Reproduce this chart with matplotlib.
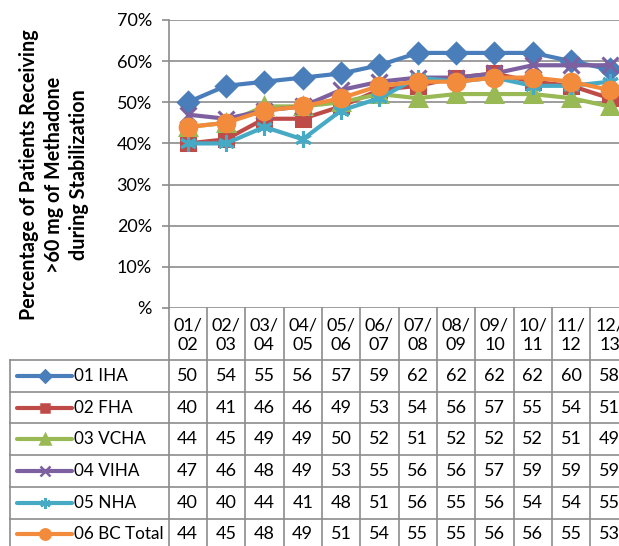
import matplotlib
matplotlib.use("Agg")
import matplotlib.pyplot as plt
import numpy as np

plt.rcParams['font.family'] = ['Lato', 'DejaVu Sans']

# Data
periods = ["01/\n02", "02/\n03", "03/\n04", "04/\n05", "05/\n06", "06/\n07",
           "07/\n08", "08/\n09", "09/\n10", "10/\n11", "11/\n12", "12/\n13"]
iha = [50, 54, 55, 56, 57, 59, 62, 62, 62, 62, 60, 58]
fha = [40, 41, 46, 46, 49, 53, 54, 56, 57, 55, 54, 51]
vcha = [44, 45, 49, 49, 50, 52, 51, 52, 52, 52, 51, 49]
viha = [47, 46, 48, 49, 53, 55, 56, 56, 57, 59, 59, 59]
nha = [40, 40, 44, 41, 48, 51, 56, 55, 56, 54, 54, 55]
bc_total = [44, 45, 48, 49, 51, 54, 55, 55, 56, 56, 55, 53]
series_names = ["01 IHA", "02 FHA", "03 VCHA", "04 VIHA", "05 NHA", "06 BC Total"]
series_vals = [iha, fha, vcha, viha, nha, bc_total]

# styles (Excel 2010 palette)
colors = ['#4A7EBB', '#BE4B48', '#98B954', '#7D60A0', '#46AAC5', '#F38B3C']
markers = ['D', 's', '^', 'x', (6, 2, 0), 'o']
msizes = [10, 10, 11, 11, 12, 12]

W, H = 619, 546
x0, cw = 168.5, 38.35          # plot left edge and column width (px)
y_top, y_bot = 20, 308          # 70% and 0% (px)
rh = 31.7                       # table row height
grid_c = '#8c8c8c'
fs = 13

fig = plt.figure(figsize=(W / 100, H / 100), dpi=100)
n = len(periods)
ax = fig.add_axes([x0 / W, 1 - y_bot / H, n * cw / W, (y_bot - y_top) / H])
x = np.arange(n)

for vals, c, m, ms in zip(series_vals, colors, markers, msizes):
    ax.plot(x, vals, color=c, lw=3.0, marker=m, ms=ms, mfc=c, mec=c, mew=2.2,
            solid_capstyle='round', clip_on=False)

ax.set_xlim(-0.5, n - 0.5)
ax.set_ylim(0, 70)
ax.set_yticks(range(0, 71, 10))
ax.set_yticklabels(['%'] + ['%d%%' % v for v in range(10, 71, 10)], fontsize=fs)
ax.set_xticks([])
ax.yaxis.grid(True, color=grid_c, lw=1.2)
ax.set_axisbelow(True)
for s in ['top', 'right', 'bottom']:
    ax.spines[s].set_visible(False)
ax.spines['left'].set_color(grid_c)
ax.spines['left'].set_linewidth(1.2)
ax.tick_params(axis='y', length=5, width=1.2, color=grid_c, pad=7)

fig.text(54 / W, 1 - 175 / H,
         "Percentage of Patients Receiving\n>60 mg of Methadone\nduring Stabilization",
         rotation=90, ha='center', va='center', multialignment='center',
         fontsize=14.2, fontweight='bold', linespacing=1.3)

# table drawn in pixel coordinates
tb = fig.add_axes([0, 0, 1, 1])
tb.set_xlim(0, W)
tb.set_ylim(H, 0)
tb.axis('off')

hdr_bot = 360
tab_bot = hdr_bot + rh * len(series_names)
x_right = x0 + n * cw
lk = dict(color=grid_c, lw=1.2)
for k in range(n + 1):
    tb.plot([x0 + k * cw] * 2, [y_bot, tab_bot], **lk)
tb.plot([10, 10], [hdr_bot, tab_bot], **lk)
for i in range(len(series_names) + 1):
    tb.plot([10, x_right], [hdr_bot + i * rh] * 2, **lk)

for k, lab in enumerate(periods):
    tb.text(x0 + (k + 0.5) * cw, (y_bot + hdr_bot) / 2 + 1, lab, ha='center', va='center',
            fontsize=fs, linespacing=1.25)

for i, (name, vals) in enumerate(zip(series_names, series_vals)):
    yc = hdr_bot + (i + 0.5) * rh
    tb.plot([17, 72], [yc, yc], color=colors[i], lw=3.0, solid_capstyle='round')
    tb.plot([44.5], [yc], marker=markers[i], ms=msizes[i] * 0.62, color=colors[i],
            mec=colors[i], mew=1.8)
    tb.text(74, yc, name, ha='left', va='center', fontsize=12.3)
    for k, v in enumerate(vals):
        tb.text(x0 + (k + 0.5) * cw, yc, str(v), ha='center', va='center', fontsize=fs)

fig.savefig('out.png', dpi=100)
